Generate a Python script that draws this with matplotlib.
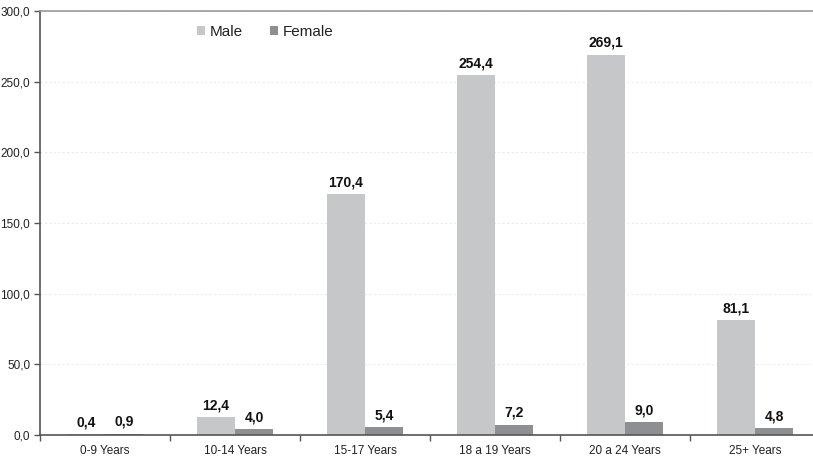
import matplotlib.pyplot as plt
import numpy as np
from matplotlib.ticker import FuncFormatter

plt.rcParams['font.family'] = ['Liberation Sans', 'DejaVu Sans']

age_groups = ['0-9 Years', '10-14 Years', '15-17 Years', '18 a 19 Years', '20 a 24 Years', '25+ Years']
male = [0.4, 12.4, 170.4, 254.4, 269.1, 81.1]
female = [0.9, 4.0, 5.4, 7.2, 9.0, 4.8]

male_color = '#c6c7c9'
female_color = '#8e8f91'


def comma(v, pos=None):
    return f'{v:.1f}'.replace('.', ',')


fig = plt.figure(figsize=(8.13, 4.59), dpi=100)
ax = fig.add_axes([40 / 813, 24 / 459, 780 / 813, 424 / 459])

x = np.arange(len(age_groups))
w = 0.292
bars_m = ax.bar(x - w / 2, male, w, color=male_color, label='Male', zorder=2)
bars_f = ax.bar(x + w / 2, female, w, color=female_color, label='Female', zorder=2)

for bars in (bars_m, bars_f):
    for b in bars:
        h = b.get_height()
        ax.annotate(comma(h), (b.get_x() + b.get_width() / 2, h),
                    xytext=(0, 5), textcoords='offset pixels',
                    ha='center', va='bottom', fontsize=10, fontweight='bold', color='#111111')

ax.set_xlim(-0.5, len(age_groups) - 0.5)
ax.set_ylim(0, 300)
ax.set_yticks(np.arange(0, 301, 50))
ax.yaxis.set_major_formatter(FuncFormatter(comma))
ax.set_xticks(x)
ax.set_xticklabels(age_groups)
ax.set_xticks(np.arange(-0.5, len(age_groups), 1), minor=True)
ax.tick_params(axis='x', which='major', length=0, labelsize=8.5, colors='#222222', pad=7)
ax.tick_params(axis='x', which='minor', length=4, width=1, color='#555555')
ax.tick_params(axis='y', length=4, width=1, color='#555555', labelsize=8.5, labelcolor='#222222', pad=3)

ax.grid(axis='y', color='#ececec', linestyle=(0, (2, 2)), linewidth=0.8, zorder=0)
for side in ('left', 'bottom'):
    ax.spines[side].set_color('#555555')
    ax.spines[side].set_linewidth(1.2)
ax.spines['top'].set_color('#999999')
ax.spines['top'].set_linewidth(1.2)
ax.spines['right'].set_visible(False)

ax.legend(loc='center left', bbox_to_anchor=(183 / 813, 1 - 32 / 459), bbox_transform=fig.transFigure,
          ncol=2, frameon=False, fontsize=11, handlelength=0.55, handleheight=0.55,
          handletextpad=0.3, columnspacing=1.75, labelcolor='#222222')

fig.savefig('out.png', dpi=100)
